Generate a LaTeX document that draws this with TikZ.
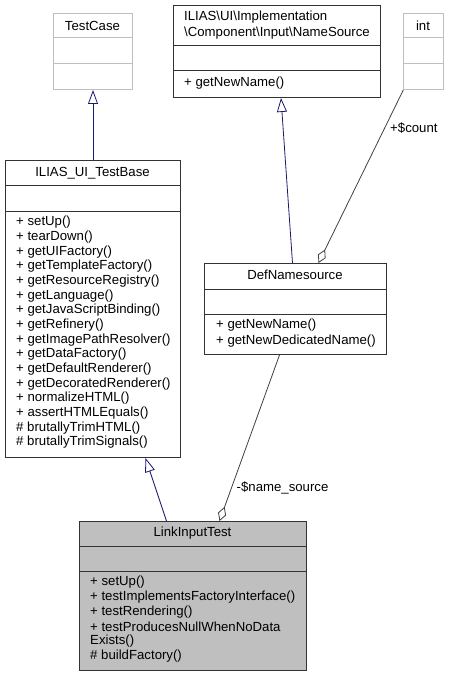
\documentclass[tikz,border=0pt]{standalone}
\usepackage{fontspec}
\setmainfont{Liberation Sans}
\usetikzlibrary{arrows.meta}
\definecolor{edgeblue}{HTML}{191970}
\definecolor{edgegray}{HTML}{404040}
\definecolor{boxgray}{HTML}{BFBFBF}
\definecolor{border}{HTML}{333333}
\begin{document}
\begin{tikzpicture}[x=1pt,y=-1pt,
  every node/.style={font=\fontsize{13.2}{14.65}\selectfont, inner sep=0pt},
  umlbox/.style={draw=border, line width=1pt, anchor=north west, minimum width=#1},
  graybox/.style={draw=boxgray, line width=1pt, anchor=north west, minimum width=#1},
  divline/.style={draw=border, line width=1pt},
  graydiv/.style={draw=boxgray, line width=1pt},
  mtext/.style={anchor=west},
  inh/.style={draw=edgeblue, line width=0.8pt, -{Triangle[open, length=14pt, width=10pt]}},
  agg/.style={draw=edgegray, line width=0.8pt, -{Diamond[open, length=15pt, width=8.5pt]}},
  elabel/.style={anchor=west}]
\useasboundingbox (0,0) rectangle (448,676);

% TestCase
\node[graybox=79pt, minimum height=76pt] (tc) at (53,13) {};
\draw[graydiv] (53,38) -- (132,38);
\draw[graydiv] (53,64) -- (132,64);
\node (tct) at (92.5,25.5) {TestCase};

% NameSource
\node[umlbox=207pt, minimum height=92pt] (ns) at (173,5) {};
\draw[divline] (173,46) -- (380,46);
\draw[divline] (173,71) -- (380,71);
\node[mtext] (nst1) at (184,17.5) {ILIAS\textbackslash UI\textbackslash Implementation};
\node[mtext] (nst2) at (184,33) {\textbackslash Component\textbackslash Input\textbackslash NameSource};
\node[mtext] (nsm1) at (184,83.5) {+ getNewName()};

% int
\node[graybox=39.5pt, minimum height=76pt] (int) at (403.3,13) {};
\draw[graydiv] (403.3,38) -- (442.8,38);
\draw[graydiv] (403.3,64) -- (442.8,64);
\node (intt) at (423,25.5) {int};

% ILIAS_UI_TestBase
\node[umlbox=175pt, minimum height=297pt] (tb) at (5,160) {};
\draw[divline] (5,186) -- (180,186);
\draw[divline] (5,211) -- (180,211);
\node (tbt) at (92.5,173) {ILIAS\_UI\_TestBase};
\foreach \t [count=\i] in {+ setUp(), + tearDown(), + getUIFactory(), + getTemplateFactory(),
  + getResourceRegistry(), + getLanguage(), + getJavaScriptBinding(), + getRefinery(),
  + getImagePathResolver(), + getDataFactory(), + getDefaultRenderer(), + getDecoratedRenderer(),
  + normalizeHTML(), + assertHTMLEquals(), \# brutallyTrimHTML(), \# brutallyTrimSignals()}
  \node[mtext] (tbm\i) at (16,{222.5+(\i-1)*14.65}) {\t};

% DefNamesource
\node[umlbox=182pt, minimum height=91pt] (dn) at (204,263) {};
\draw[divline] (204,289) -- (386,289);
\draw[divline] (204,314) -- (386,314);
\node (dnt) at (295,275) {DefNamesource};
\node[mtext] (dnm1) at (216,325.5) {+ getNewName()};
\node[mtext] (dnm2) at (216,341) {+ getNewDedicatedName()};

% LinkInputTest
\node[umlbox=227pt, minimum height=149pt, fill=boxgray] (li) at (79,521) {};
\draw[divline] (79,546) -- (306,546);
\draw[divline] (79,571) -- (306,571);
\node (lit) at (192.5,533) {LinkInputTest};
\foreach \t [count=\i] in {+ setUp(), + testImplementsFactoryInterface(), + testRendering(),
  + testProducesNullWhenNoData, Exists(), \# buildFactory()}
  \node[mtext] (lim\i) at (90,{582.5+(\i-1)*14.75}) {\t};

% connectors
\draw[inh] (tb.north -| tc.south) -- (tc.south);
\draw[inh] ([xshift=-3pt]dn.north) -- ([xshift=4pt]ns.south);
\draw[inh] ([xshift=-26.5pt]li.north) -- ([xshift=52.5pt]tb.south);
\draw[agg] (int.south west) -- ([xshift=23pt]dn.north);
\draw[agg] ([xshift=-16pt]dn.south) -- ([xshift=26.5pt]li.north);

% labels
\node[elabel] (lcount) at (390,128) {+\$count};
\node[elabel] (lname) at (236.5,488) {-\$name\_source};
\end{tikzpicture}
\end{document}
